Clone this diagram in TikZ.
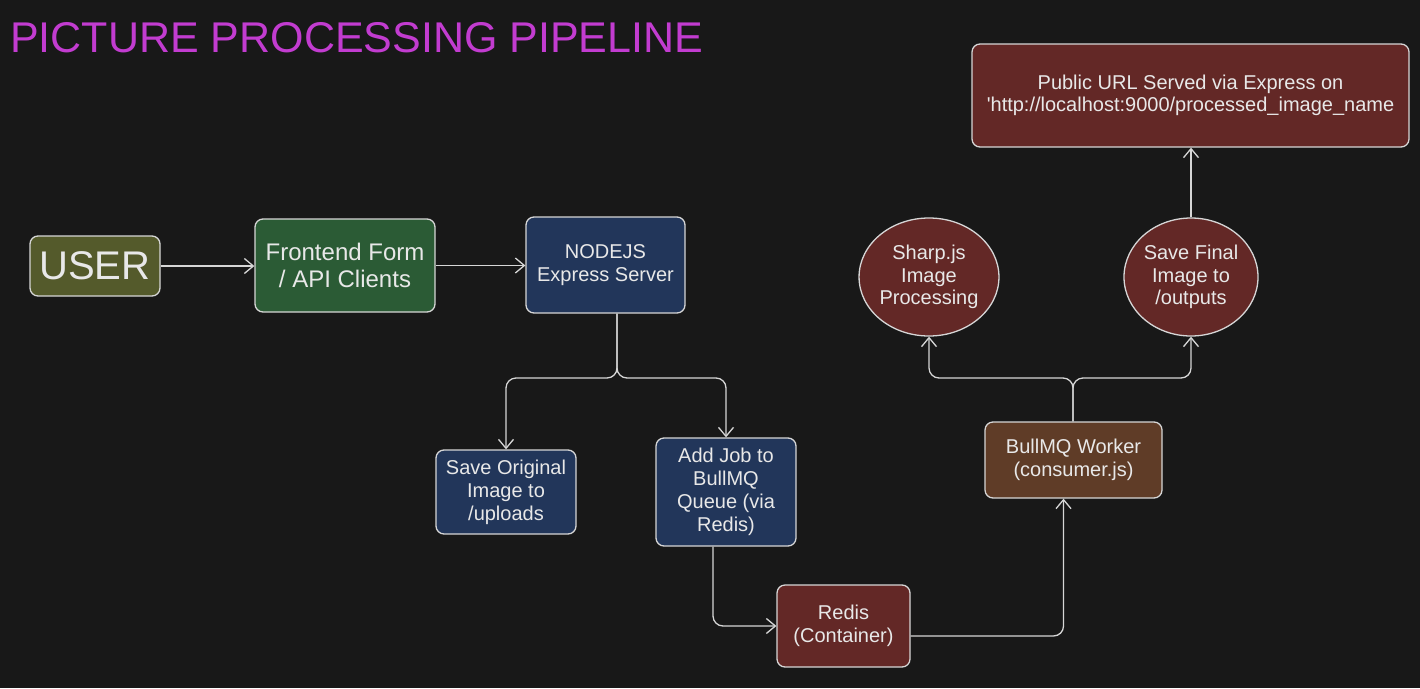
\documentclass[tikz,border=0pt]{standalone}
\usepackage{fontspec}
\setmainfont{Liberation Sans}
\usepackage{tikz}
\usetikzlibrary{arrows.meta,shapes.geometric}

\definecolor{bgdark}{HTML}{181818}
\definecolor{edgegray}{HTML}{D6D6D6}
\definecolor{txtgray}{HTML}{E8E8E8}
\definecolor{titlemag}{HTML}{C23CD0}
\definecolor{olivebox}{HTML}{545A2B}
\definecolor{greenbox}{HTML}{2B5B35}
\definecolor{navybox}{HTML}{22365A}
\definecolor{redbox}{HTML}{632826}
\definecolor{brownbox}{HTML}{5F3C27}

\tikzset{
  box/.style={draw=edgegray, line width=1.3pt, rounded corners=8pt, text=txtgray,
    align=center, inner sep=0pt, font=\fontsize{20}{23}\selectfont},
  blob/.style={ellipse, draw=edgegray, line width=1.3pt, fill=redbox, text=txtgray,
    align=center, inner sep=0pt, font=\fontsize{20}{22.5}\selectfont},
  conn/.style={draw=edgegray, line width=1.3pt, rounded corners=10pt,
    -{Straight Barb[length=9pt,width=15pt]}}
}

\begin{document}
\begin{tikzpicture}[x=1pt, y=-1pt]
  \fill[bgdark] (0,0) rectangle (1420,688);
  \useasboundingbox (0,0) rectangle (1420,688);

  % title
  \node[anchor=base west, inner sep=0pt, text=titlemag, font=\fontsize{43}{43}\selectfont] (title) at (10,52) {PICTURE PROCESSING PIPELINE};

  % request side
  \node[box, fill=olivebox, minimum width=130pt, minimum height=60pt, font=\fontsize{40}{40}\selectfont] (user) at (95,266) {USER};
  \node[box, fill=greenbox, minimum width=180pt, minimum height=93pt, font=\fontsize{24}{27}\selectfont] (front) at (345,265.5) {Frontend Form\\/ API Clients};
  \node[box, fill=navybox, minimum width=159pt, minimum height=96pt] (nodejs) at (605.5,265) {NODEJS\\Express Server};
  \node[box, fill=navybox, minimum width=140pt, minimum height=84pt] (saveorig) at (506,492) {Save Original\\Image to\\/uploads};
  \node[box, fill=navybox, minimum width=140pt, minimum height=108pt] (addjob) at (726,492) {Add Job to\\BullMQ\\Queue (via\\Redis)};
  \node[box, fill=redbox, minimum width=133pt, minimum height=82pt] (redis) at (843.5,626) {Redis\\(Container)};

  % worker side
  \node[box, fill=brownbox, minimum width=177pt, minimum height=76pt] (worker) at (1073.5,460) {BullMQ Worker\\(consumer.js)};
  \node[blob, minimum width=132pt, minimum height=118pt] (sharp) at (929,277) {Sharp.js\\Image\\Processing};
  \node[blob, minimum width=134pt, minimum height=118pt] (savefinal) at (1191,277) {Save Final\\Image to\\/outputs};
  \node[box, fill=redbox, minimum width=437pt, minimum height=103pt, font=\fontsize{20}{22}\selectfont] (url) at (1190.5,95.5) {Public URL Served via Express on\\\textquotesingle http://localhost:9000/processed\_image\_name};

  % connectors
  \coordinate (split1) at (617,378);
  \coordinate (split2) at (1073,378);
  \draw[conn] (user.east) -- (user.east -| front.west);
  \draw[conn] (front.east) -- (front.east -| nodejs.west);
  \draw[conn] (nodejs.south -| split1) -- (split1) -| (saveorig.north);
  \draw[conn] (nodejs.south -| split1) -- (split1) -| (addjob.north);
  \draw[conn] ([xshift=-13pt]addjob.south) |- (redis.west);
  \draw[conn] ([yshift=-10pt]redis.east) -| ([xshift=-10pt]worker.south);
  \draw[conn] (worker.north -| split2) -- (split2) -| (sharp.south);
  \draw[conn] (worker.north -| split2) -- (split2) -| (savefinal.south);
  \draw[conn] (savefinal.north) -- (url.south -| savefinal.north);
\end{tikzpicture}
\end{document}
